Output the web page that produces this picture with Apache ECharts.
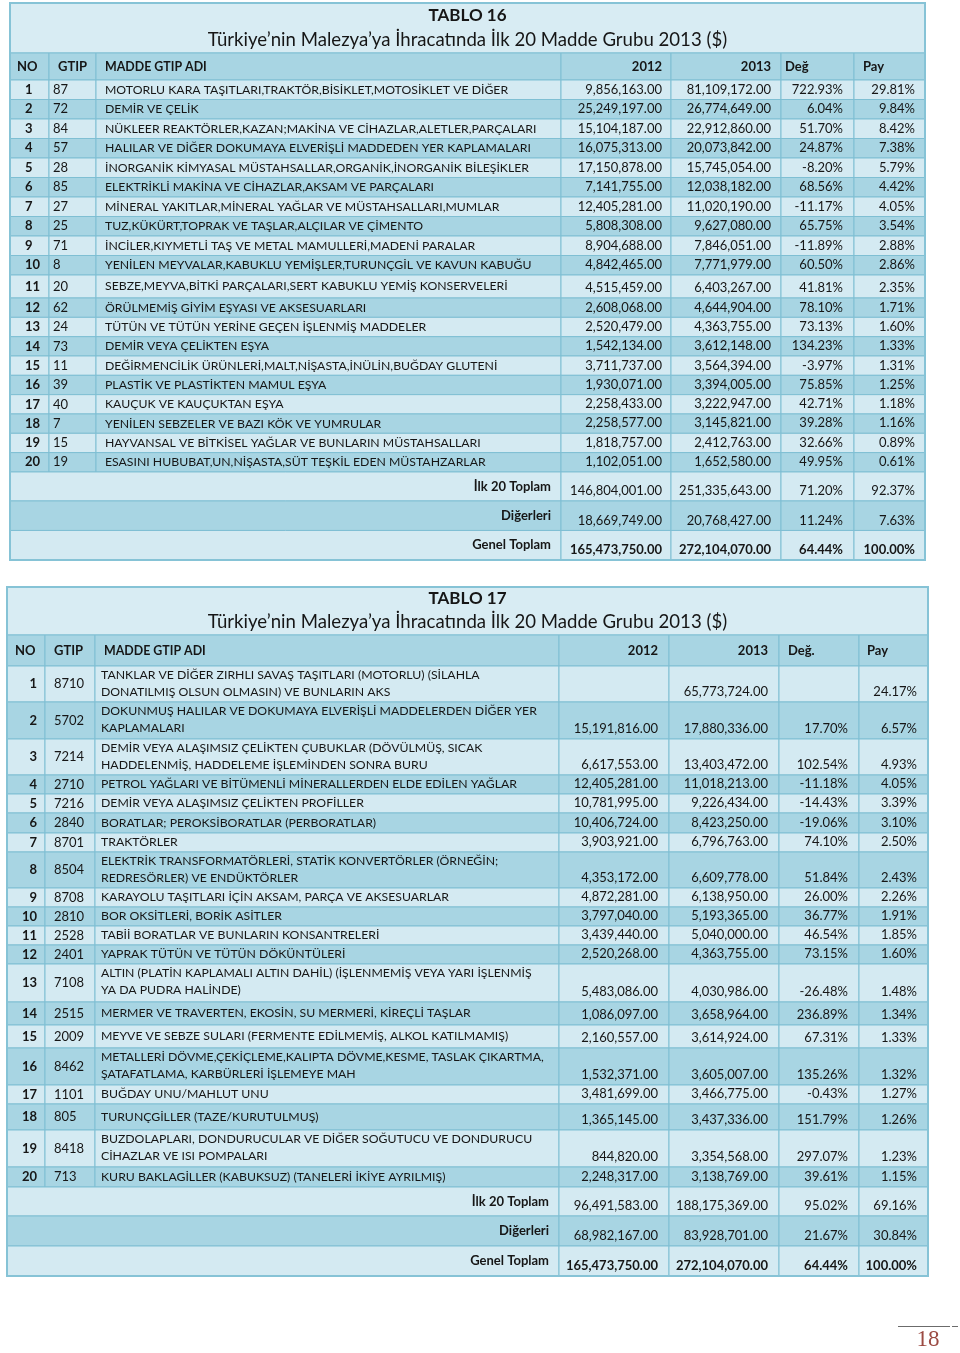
<!DOCTYPE html>
<html><head><meta charset="utf-8">
<script src="https://cdn.jsdelivr.net/npm/echarts@6/dist/echarts.min.js"></script>
<style>html,body{margin:0;padding:0;background:#fff}#c{width:960px;height:1353px}</style>
</head><body><div id="c"></div><script>
// ================= DATA =================
const t16Title = 'TABLO 16';
const t16Subtitle = 'Türkiye’nin Malezya’ya İhracatında İlk 20 Madde Grubu 2013 ($)';
const t16Headers = ['NO', 'GTIP', 'MADDE GTIP ADI', '2012', '2013', 'Değ', 'Pay'];
const t16No = [1,2,3,4,5,6,7,8,9,10,11,12,13,14,15,16,17,18,19,20];
const t16Gtip = ['87','72','84','57','28','85','27','25','71','8','20','62','24','73','11','39','40','7','15','19'];
const t16Names = [
  'MOTORLU KARA TAŞITLARI,TRAKTÖR,BİSİKLET,MOTOSİKLET VE DİĞER',
  'DEMİR VE ÇELİK',
  'NÜKLEER REAKTÖRLER,KAZAN;MAKİNA VE CİHAZLAR,ALETLER,PARÇALARI',
  'HALILAR VE DİĞER DOKUMAYA ELVERİŞLİ MADDEDEN YER KAPLAMALARI',
  'İNORGANİK KİMYASAL MÜSTAHSALLAR,ORGANİK,İNORGANİK BİLEŞİKLER',
  'ELEKTRİKLİ MAKİNA VE CİHAZLAR,AKSAM VE PARÇALARI',
  'MİNERAL YAKITLAR,MİNERAL YAĞLAR VE MÜSTAHSALLARI,MUMLAR',
  'TUZ,KÜKÜRT,TOPRAK VE TAŞLAR,ALÇILAR VE ÇİMENTO',
  'İNCİLER,KIYMETLİ TAŞ VE METAL MAMULLERİ,MADENİ PARALAR',
  'YENİLEN MEYVALAR,KABUKLU YEMİŞLER,TURUNÇGİL VE KAVUN KABUĞU',
  'SEBZE,MEYVA,BİTKİ PARÇALARI,SERT KABUKLU YEMİŞ KONSERVELERİ',
  'ÖRÜLMEMİŞ GİYİM EŞYASI VE AKSESUARLARI',
  'TÜTÜN VE TÜTÜN YERİNE GEÇEN İŞLENMİŞ MADDELER',
  'DEMİR VEYA ÇELİKTEN EŞYA',
  'DEĞİRMENCİLİK ÜRÜNLERİ,MALT,NİŞASTA,İNÜLİN,BUĞDAY GLUTENİ',
  'PLASTİK VE PLASTİKTEN MAMUL EŞYA',
  'KAUÇUK VE KAUÇUKTAN EŞYA',
  'YENİLEN SEBZELER VE BAZI KÖK VE YUMRULAR',
  'HAYVANSAL VE BİTKİSEL YAĞLAR VE BUNLARIN MÜSTAHSALLARI',
  'ESASINI HUBUBAT,UN,NİŞASTA,SÜT TEŞKİL EDEN MÜSTAHZARLAR'
];
const t16V2012 = [9856163,25249197,15104187,16075313,17150878,7141755,12405281,5808308,8904688,4842465,4515459,2608068,2520479,1542134,3711737,1930071,2258433,2258577,1818757,1102051];
const t16V2013 = [81109172,26774649,22912860,20073842,15745054,12038182,11020190,9627080,7846051,7771979,6403267,4644904,4363755,3612148,3564394,3394005,3222947,3145821,2412763,1652580];
const t16Deg = [722.93,6.04,51.70,24.87,-8.20,68.56,-11.17,65.75,-11.89,60.50,41.81,78.10,73.13,134.23,-3.97,75.85,42.71,39.28,32.66,49.95];
const t16Pay = [29.81,9.84,8.42,7.38,5.79,4.42,4.05,3.54,2.88,2.86,2.35,1.71,1.60,1.33,1.31,1.25,1.18,1.16,0.89,0.61];
const t16TotLabels = ['İlk 20 Toplam', 'Diğerleri', 'Genel Toplam'];
const t16Tot2012 = [146804001, 18669749, 165473750];
const t16Tot2013 = [251335643, 20768427, 272104070];
const t16TotDeg = [71.20, 11.24, 64.44];
const t16TotPay = [92.37, 7.63, 100.00];

const t17Title = 'TABLO 17';
const t17Subtitle = 'Türkiye’nin Malezya’ya İhracatında İlk 20 Madde Grubu 2013 ($)';
const t17Headers = ['NO', 'GTIP', 'MADDE GTIP ADI', '2012', '2013', 'Değ.', 'Pay'];
const t17No = [1,2,3,4,5,6,7,8,9,10,11,12,13,14,15,16,17,18,19,20];
const t17Gtip = ['8710','5702','7214','2710','7216','2840','8701','8504','8708','2810','2528','2401','7108','2515','2009','8462','1101','805','8418','713'];
const t17Names = [
  'TANKLAR VE DİĞER ZIRHLI SAVAŞ TAŞITLARI (MOTORLU) (SİLAHLA\nDONATILMIŞ OLSUN OLMASIN) VE BUNLARIN AKS',
  'DOKUNMUŞ HALILAR VE DOKUMAYA ELVERİŞLİ MADDELERDEN DİĞER YER\nKAPLAMALARI',
  'DEMİR VEYA ALAŞIMSIZ ÇELİKTEN ÇUBUKLAR (DÖVÜLMÜŞ, SICAK\nHADDELENMİŞ, HADDELEME İŞLEMİNDEN SONRA BURU',
  'PETROL YAĞLARI VE BİTÜMENLİ MİNERALLERDEN ELDE EDİLEN YAĞLAR',
  'DEMİR VEYA ALAŞIMSIZ ÇELİKTEN PROFİLLER',
  'BORATLAR; PEROKSİBORATLAR (PERBORATLAR)',
  'TRAKTÖRLER',
  'ELEKTRİK TRANSFORMATÖRLERİ, STATİK KONVERTÖRLER (ÖRNEĞİN;\nREDRESÖRLER) VE ENDÜKTÖRLER',
  'KARAYOLU TAŞITLARI İÇİN AKSAM, PARÇA VE AKSESUARLAR',
  'BOR OKSİTLERİ, BORİK ASİTLER',
  'TABİİ BORATLAR VE BUNLARIN KONSANTRELERİ',
  'YAPRAK TÜTÜN VE TÜTÜN DÖKÜNTÜLERİ',
  'ALTIN (PLATİN KAPLAMALI ALTIN DAHİL) (İŞLENMEMİŞ VEYA YARI İŞLENMİŞ\nYA DA PUDRA HALİNDE)',
  'MERMER VE TRAVERTEN, EKOSİN, SU MERMERİ, KİREÇLİ TAŞLAR',
  'MEYVE VE SEBZE SULARI (FERMENTE EDİLMEMİŞ, ALKOL KATILMAMIŞ)',
  'METALLERİ DÖVME,ÇEKİÇLEME,KALIPTA DÖVME,KESME, TASLAK ÇIKARTMA,\nŞATAFATLAMA, KARBÜRLERİ İŞLEMEYE MAH',
  'BUĞDAY UNU/MAHLUT UNU',
  'TURUNÇGİLLER (TAZE/KURUTULMUŞ)',
  'BUZDOLAPLARI, DONDURUCULAR VE DİĞER SOĞUTUCU VE DONDURUCU\nCİHAZLAR VE ISI POMPALARI',
  'KURU BAKLAGİLLER (KABUKSUZ) (TANELERİ İKİYE AYRILMIŞ)'
];
const t17V2012 = [null,15191816,6617553,12405281,10781995,10406724,3903921,4353172,4872281,3797040,3439440,2520268,5483086,1086097,2160557,1532371,3481699,1365145,844820,2248317];
const t17V2013 = [65773724,17880336,13403472,11018213,9226434,8423250,6796763,6609778,6138950,5193365,5040000,4363755,4030986,3658964,3614924,3605007,3466775,3437336,3354568,3138769];
const t17Deg = [null,17.70,102.54,-11.18,-14.43,-19.06,74.10,51.84,26.00,36.77,46.54,73.15,-26.48,236.89,67.31,135.26,-0.43,151.79,297.07,39.61];
const t17Pay = [24.17,6.57,4.93,4.05,3.39,3.10,2.50,2.43,2.26,1.91,1.85,1.60,1.48,1.34,1.33,1.32,1.27,1.26,1.23,1.15];
const t17TotLabels = ['İlk 20 Toplam', 'Diğerleri', 'Genel Toplam'];
const t17Tot2012 = [96491583, 68982167, 165473750];
const t17Tot2013 = [188175369, 83928701, 272104070];
const t17TotDeg = [95.02, 21.67, 64.44];
const t17TotPay = [69.16, 30.84, 100.00];

const pageNumber = '18';

// ================= LAYOUT / STYLE =================
const FONT = 'Lato, "Noto Sans", sans-serif';
const TXT = '#161616';
const LIGHT = '#d4eaf2';
const DARK = '#a8d5e3';
const TITLE_BG = '#d8ecf3';
const LINE = '#7fbfd3';
const OUTER = '#86c3d6';
const BODY_SIZE = 13;
const NAME_SIZE = 12.25;
const TITLE_SIZE = 17;
const SUBTITLE_SIZE = 18.6;

function rep(v, n) { return Array.from({length: n}, () => v); }

const L16 = {
  left: 10, top: 3, colW: [39, 47, 465, 110, 110, 73, 71],
  titleH: 50, titleY: [13, 37], headH: 27,
  rowH: rep(19.5, 10).concat([23]).concat(rep(19.33, 9)),
  totH: [29, 29.5, 29.5],
  noAlign: 'left', noPad: 15, gtipPad: 4, namePad: 9,
  headPad: [7, 9, 9, 9, 10, 4, 9], valPad: [9, 10, 11, 10], totLabelPad: 10
};
const L17 = {
  left: 7, top: 587, colW: [38, 50, 464, 110, 110, 80, 69],
  titleH: 48, titleY: [12, 35], headH: 31,
  rowH: [36,37,36,19,19,20,19,36,19,19,19,19,38,23,23,37,19,26,37,20],
  totH: [29, 30, 30],
  noAlign: 'right', noPad: 8, gtipPad: 9, namePad: 6,
  headPad: [8, 9, 9, 11, 11, 9, 8], valPad: [11, 11, 11, 11], totLabelPad: 10
};
const HEAD_ALIGN = ['left', 'left', 'left', 'right', 'right', 'left', 'left'];

function fmtNum(v) { return v == null ? '' : v.toLocaleString('en-US', {minimumFractionDigits: 2, maximumFractionDigits: 2}); }
function fmtPct(v) { return v == null ? '' : v.toFixed(2) + '%'; }

function buildCells(T, L) {
  const xs = [0];
  L.colW.forEach(w => xs.push(xs[xs.length - 1] + w));
  const W = xs[xs.length - 1];
  const cells = [];
  cells.push({ r: [0, 0, W, L.titleH], fill: TITLE_BG, texts: [
    { t: T.title, x: W / 2, y: L.titleY[0], align: 'center', va: 'middle', bold: true, size: TITLE_SIZE },
    { t: T.subtitle, x: W / 2, y: L.titleY[1], align: 'center', va: 'middle', bold: false, size: SUBTITLE_SIZE }
  ]});
  let y = L.titleH;
  for (let c = 0; c < 7; c++) {
    const al = HEAD_ALIGN[c];
    cells.push({ r: [xs[c], y, xs[c + 1], y + L.headH], fill: DARK, texts: [
      { t: T.headers[c], x: al === 'right' ? xs[c + 1] - L.headPad[c] : xs[c] + L.headPad[c], y: y + L.headH / 2, align: al, va: 'middle', bold: true, size: c === 2 ? 12.4 : BODY_SIZE }
    ]});
  }
  y += L.headH;
  for (let i = 0; i < T.names.length; i++) {
    const h = L.rowH[i];
    const fill = i % 2 === 0 ? LIGHT : DARK;
    const y0 = y, y1 = y + h, ym = y + h / 2;
    cells.push({ r: [xs[0], y0, xs[1], y1], fill, texts: [
      { t: String(T.no[i]), x: L.noAlign === 'left' ? xs[0] + L.noPad : xs[1] - L.noPad, y: ym, align: L.noAlign, va: 'middle', bold: true }
    ]});
    cells.push({ r: [xs[1], y0, xs[2], y1], fill, texts: [
      { t: T.gtip[i], x: xs[1] + L.gtipPad, y: ym, align: 'left', va: 'middle' }
    ]});
    const multi = T.names[i].indexOf('\n') >= 0;
    cells.push({ r: [xs[2], y0, xs[3], y1], fill, texts: [
      { t: T.names[i], x: xs[2] + L.namePad, y: multi ? y0 + 0.5 : ym, align: 'left', va: multi ? 'top' : 'middle', lh: 17, size: NAME_SIZE }
    ]});
    const vals = [fmtNum(T.v2012[i]), fmtNum(T.v2013[i]), fmtPct(T.deg[i]), fmtPct(T.pay[i])];
    for (let k = 0; k < 4; k++) {
      const c = 3 + k;
      cells.push({ r: [xs[c], y0, xs[c + 1], y1], fill, texts: [
        { t: vals[k], x: xs[c + 1] - L.valPad[k], y: y1 - 2, align: 'right', va: 'bottom' }
      ]});
    }
    y = y1;
  }
  for (let j = 0; j < T.totLabels.length; j++) {
    const h = L.totH[j];
    const fill = j % 2 === 0 ? LIGHT : DARK;
    const y0 = y, y1 = y + h;
    cells.push({ r: [xs[0], y0, xs[3], y1], fill, texts: [
      { t: T.totLabels[j], x: xs[3] - L.totLabelPad, y: y0 + h / 2, align: 'right', va: 'middle', bold: true }
    ]});
    const vals = [fmtNum(T.tot2012[j]), fmtNum(T.tot2013[j]), fmtPct(T.totDeg[j]), fmtPct(T.totPay[j])];
    for (let k = 0; k < 4; k++) {
      const c = 3 + k;
      cells.push({ r: [xs[c], y0, xs[c + 1], y1], fill, texts: [
        { t: vals[k], x: xs[c + 1] - L.valPad[k], y: y1 - 2, align: 'right', va: 'bottom', bold: j === 2 }
      ]});
    }
    y = y1;
  }
  cells.push({ r: [0, 0, W, y], fill: 'none', stroke: OUTER, lw: 2, texts: [] });
  return { cells, W, H: y };
}

const T16 = { title: t16Title, subtitle: t16Subtitle, headers: t16Headers, no: t16No, gtip: t16Gtip, names: t16Names,
  v2012: t16V2012, v2013: t16V2013, deg: t16Deg, pay: t16Pay,
  totLabels: t16TotLabels, tot2012: t16Tot2012, tot2013: t16Tot2013, totDeg: t16TotDeg, totPay: t16TotPay };
const T17 = { title: t17Title, subtitle: t17Subtitle, headers: t17Headers, no: t17No, gtip: t17Gtip, names: t17Names,
  v2012: t17V2012, v2013: t17V2013, deg: t17Deg, pay: t17Pay,
  totLabels: t17TotLabels, tot2012: t17Tot2012, tot2013: t17Tot2013, totDeg: t17TotDeg, totPay: t17TotPay };

const tables = [buildCells(T16, L16), buildCells(T17, L17)];
const layouts = [L16, L17];

function makeRender(cells) {
  return function (params, api) {
    const c = cells[params.dataIndex];
    const p0 = api.coord([api.value(0), api.value(1)]);
    const p1 = api.coord([api.value(2), api.value(3)]);
    const children = [{
      type: 'rect',
      shape: { x: p0[0], y: p0[1], width: p1[0] - p0[0], height: p1[1] - p0[1] },
      style: { fill: c.fill, stroke: c.stroke || LINE, lineWidth: c.lw || 1 }
    }];
    c.texts.forEach(t => {
      const p = api.coord([t.x, t.y]);
      children.push({
        type: 'text', x: p[0], y: p[1],
        style: {
          text: t.t, align: t.align, verticalAlign: t.va, fill: TXT,
          fontFamily: FONT, fontSize: t.size || BODY_SIZE, fontWeight: t.bold ? 'bold' : 'normal',
          lineHeight: t.lh || Math.round((t.size || BODY_SIZE) * 1.2)
        }
      });
    });
    return { type: 'group', children };
  };
}

const option = {
  animation: false,
  backgroundColor: '#ffffff',
  grid: tables.map((tb, i) => ({ left: layouts[i].left, top: layouts[i].top, width: tb.W, height: tb.H, containLabel: false })),
  xAxis: tables.map((tb, i) => ({ type: 'value', gridIndex: i, min: 0, max: tb.W, show: false })),
  yAxis: tables.map((tb, i) => ({ type: 'value', gridIndex: i, min: 0, max: tb.H, inverse: true, show: false })),
  series: tables.map((tb, i) => ({
    type: 'custom', xAxisIndex: i, yAxisIndex: i, clip: false,
    renderItem: makeRender(tb.cells),
    encode: { x: [0, 2], y: [1, 3] },
    data: tb.cells.map(c => c.r)
  })),
  graphic: [
    { type: 'line', shape: { x1: 898, y1: 1326.5, x2: 950, y2: 1326.5 }, style: { stroke: '#6b6b6b', lineWidth: 1 } },
    { type: 'line', shape: { x1: 952, y1: 1326.5, x2: 958, y2: 1326.5 }, style: { stroke: '#6b6b6b', lineWidth: 1 } },
    { type: 'text', x: 928, y: 1340, style: { text: pageNumber, align: 'center', verticalAlign: 'middle', fontFamily: '"Liberation Serif", "DejaVu Serif", serif', fontSize: 23, fill: '#9c4b43' } }
  ]
};

const chart = echarts.init(document.getElementById('c'), null, { renderer: 'canvas' });
chart.setOption(option);
</script></body></html>
